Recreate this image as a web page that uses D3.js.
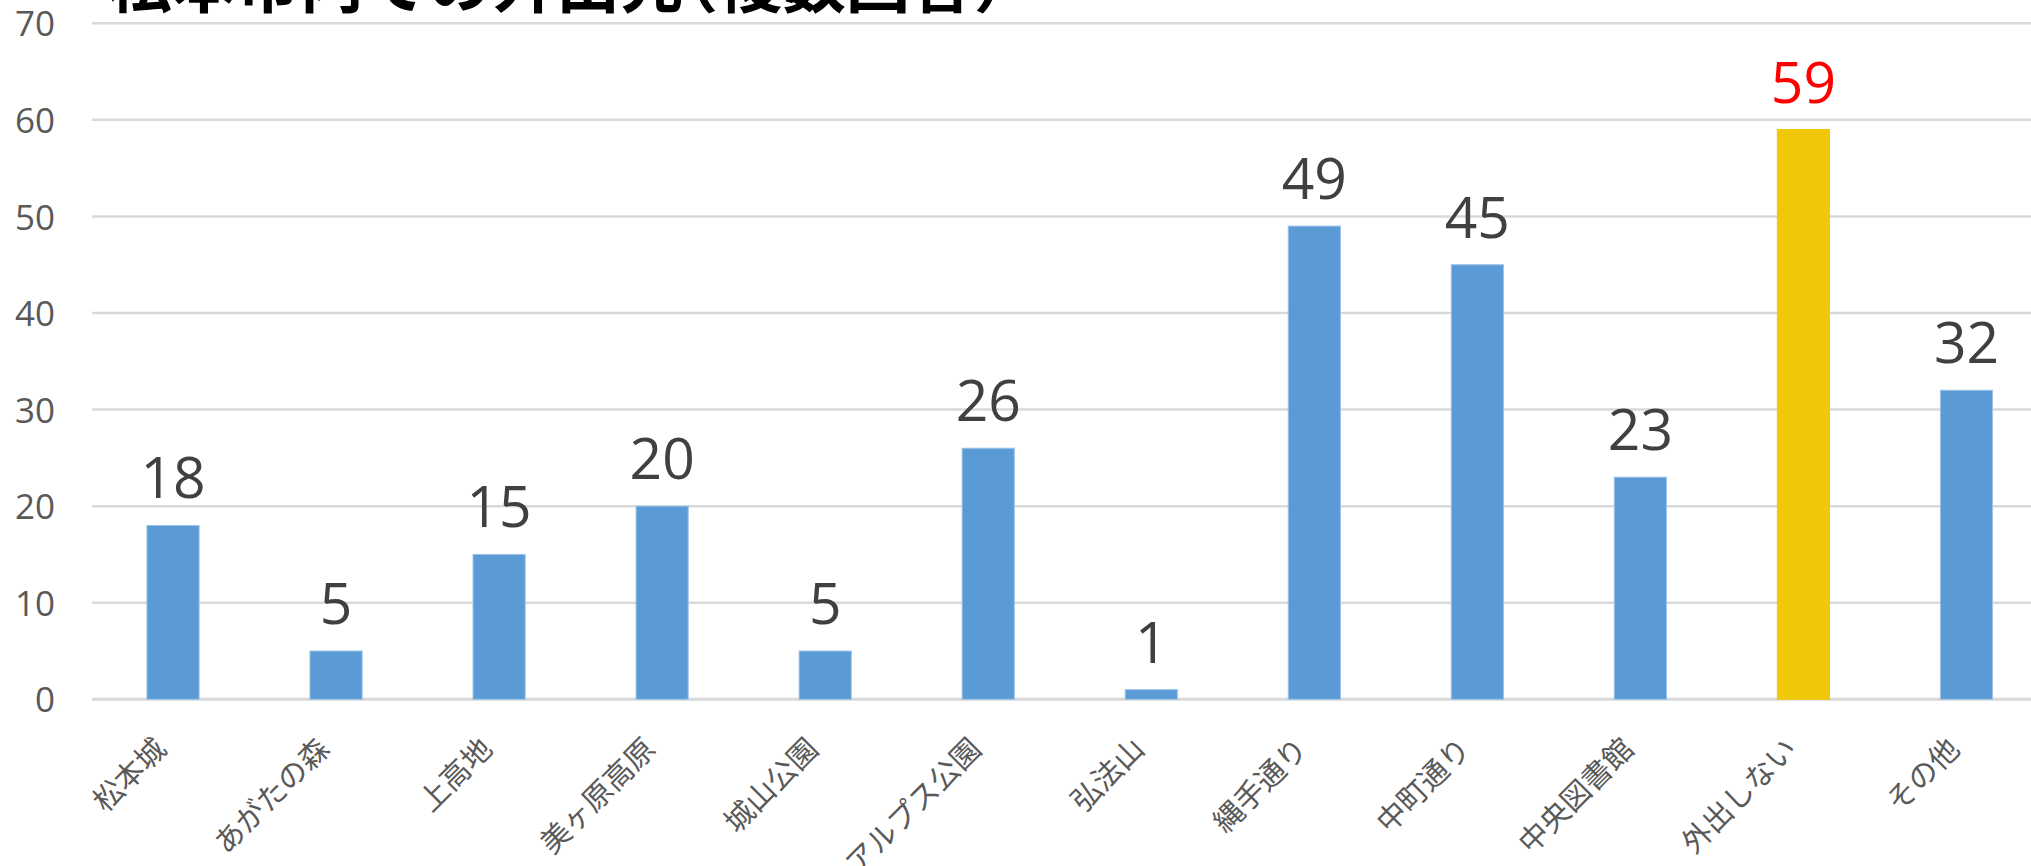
<!DOCTYPE html>
<html>
<head>
<meta charset="utf-8">
<script src="https://cdn.jsdelivr.net/npm/d3@7"></script>
<style>
  html, body { margin: 0; padding: 0; background: #ffffff; overflow: hidden; }
  svg { display: block; }
</style>
</head>
<body>
<svg id="chart" width="2031" height="866"></svg>
<script>
const titleMain = "松本市内での外出先";
const titleParen = "（複数回答）";
const categories = ["松本城", "あがたの森", "上高地", "美ヶ原高原", "城山公園", "アルプス公園", "弘法山", "縄手通り", "中町通り", "中央図書館", "外出しない", "その他"];
const values = [18, 5, 15, 20, 5, 26, 1, 49, 45, 23, 59, 32];
const highlight = ["外出しない"];
const yTicks = [0, 10, 20, 30, 40, 50, 60, 70];

const W = 2031, H = 866;
const svg = d3.select("#chart");

const x = d3.scaleBand()
  .domain(categories)
  .range([91.5, 2048])
  .paddingInner(0.68)
  .paddingOuter(0.34);

const y = d3.scaleLinear().domain([0, 70]).range([699.3, 23.3]);

// gridlines
svg.append("g").selectAll("line")
  .data(yTicks)
  .join("line")
  .attr("x1", 92).attr("x2", W)
  .attr("y1", d => y(d)).attr("y2", d => y(d))
  .attr("stroke", "#d9d9d9")
  .attr("stroke-width", d => d === 0 ? 3 : 2.5);

// y axis labels
const yAxis = d3.axisLeft(y).tickValues(yTicks).tickSize(0).tickPadding(0);
const yg = svg.append("g").attr("transform", "translate(55,0)").call(yAxis);
yg.select(".domain").remove();
yg.selectAll("text")
  .attr("font-family", "'Open Sans', 'Noto Sans', sans-serif")
  .attr("font-size", 35)
  .attr("fill", "#595959")
  .attr("dy", "0.36em");

// bars
svg.append("g").selectAll("rect")
  .data(categories)
  .join("rect")
  .attr("x", d => x(d))
  .attr("width", x.bandwidth())
  .attr("y", (d, i) => y(values[i]))
  .attr("height", (d, i) => y(0) - y(values[i]))
  .attr("fill", d => highlight.includes(d) ? "#f0c808" : "#5b9bd5")
  .attr("stroke", d => highlight.includes(d) ? "#f0c808" : "#9cc3e8")
  .attr("stroke-width", 1);

// data labels
svg.append("g").selectAll("text")
  .data(categories)
  .join("text")
  .attr("x", d => x(d) + x.bandwidth() / 2)
  .attr("y", (d, i) => y(values[i]) - 27)
  .attr("text-anchor", "middle")
  .attr("font-family", "'Open Sans', 'Noto Sans', sans-serif")
  .attr("font-size", 57)
  .attr("fill", d => highlight.includes(d) ? "#ff0000" : "#404040")
  .text((d, i) => values[i]);

// x axis labels
const xAxis = d3.axisBottom(x).tickSize(0).tickPadding(0);
const xg = svg.append("g").call(xAxis);
xg.select(".domain").remove();
xg.selectAll(".tick").attr("transform", d => `translate(${x(d) + x.bandwidth() / 2 - 5},751)`);
xg.selectAll("text")
  .attr("y", 0).attr("x", 0).attr("dy", 0)
  .attr("text-anchor", "end")
  .attr("transform", "rotate(-45)")
  .attr("font-family", "'Noto Sans CJK JP', sans-serif")
  .attr("font-size", 29.5)
  .attr("fill", "#595959");

// title (partially cut off at top)
const t = svg.append("text")
  .attr("x", 108)
  .attr("y", 7)
  .attr("font-family", "'Noto Sans CJK JP', sans-serif")
  .attr("font-weight", "bold")
  .attr("font-size", 64)
  .attr("fill", "#000000");
t.append("tspan").text(titleMain);
t.append("tspan").attr("dx", -30).text(titleParen);
</script>
</body>
</html>
